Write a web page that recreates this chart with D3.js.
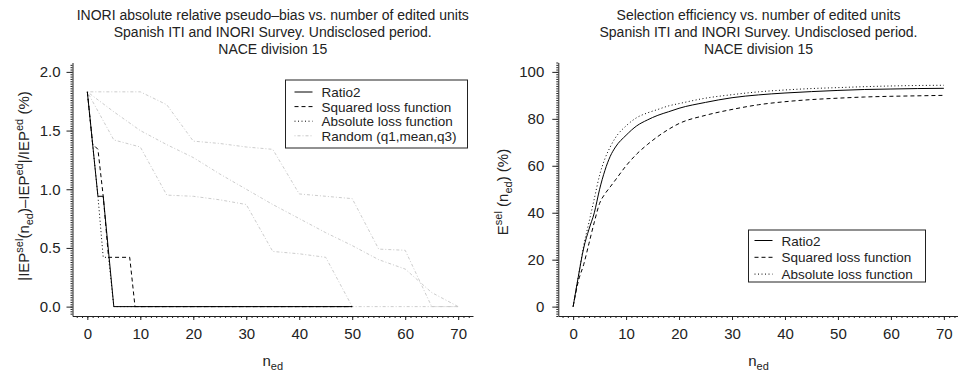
<!DOCTYPE html>
<html>
<head>
<meta charset="utf-8">
<script src="https://cdn.jsdelivr.net/npm/d3@7"></script>
<style>
  body { margin: 0; background: #fff; }
  svg { font-family: "Liberation Sans", Arial, sans-serif; }
</style>
</head>
<body>
<svg id="chart" width="958" height="372"></svg>
<script>
// ---- Left panel data (pseudo-bias, %)
const ratio2N = [0, 2, 3, 5, 50];
const ratio2V = [1.83, 0.94, 0.94, 0, 0];
const squaredN = [0, 1, 2, 3, 4, 8, 9, 50];
const squaredV = [1.83, 1.385, 1.34, 0.94, 0.42, 0.42, 0, 0];
const absoluteN = [0, 2, 3, 4, 5, 50];
const absoluteV = [1.83, 0.94, 0.42, 0.42, 0, 0];
const randomN = [0, 5, 10, 15, 20, 25, 30, 35, 40, 45, 50, 55, 60, 65, 70];
const randomQ1 = [1.83, 1.42, 1.36, 0.95, 0.94, 0.91, 0.87, 0.47, 0.45, 0.42, 0, 0, 0, 0, 0];
const randomMean = [1.83, 1.66, 1.50, 1.38, 1.27, 1.13, 1.00, 0.87, 0.75, 0.63, 0.52, 0.40, 0.32, 0.12, 0];
const randomQ3 = [1.83, 1.83, 1.83, 1.72, 1.41, 1.39, 1.36, 1.34, 0.96, 0.94, 0.92, 0.49, 0.48, 0, 0];

// ---- Right panel data (selection efficiency, %)
const effN = [0, 1, 2, 3, 4, 5, 6, 7, 8, 10, 12, 14, 16, 18, 20, 25, 30, 35, 40, 45, 50, 55, 60, 65, 70];
const effRatio2 = [0, 13, 25, 33, 40, 50, 58, 64, 68, 73, 77, 79.5, 81.5, 83, 84.5, 87, 89, 90.2, 91, 91.6, 92.1, 92.5, 92.7, 92.9, 93];
const effSquared = [0, 11, 18, 27, 36, 44, 48, 51, 54, 60, 65, 69, 72.5, 75.5, 78, 81.5, 84, 86, 87.3, 88.2, 88.8, 89.3, 89.6, 89.8, 90];
const effAbsolute = [0, 13, 26, 36, 46, 56, 63, 68, 72, 77, 80.5, 82.5, 84, 85.5, 86.5, 88.8, 90.3, 91.5, 92.3, 92.9, 93.3, 93.7, 94, 94.2, 94.3];

const xTicks = [0, 10, 20, 30, 40, 50, 60, 70];
const leftYTicks = [0, 0.5, 1, 1.5, 2];
const rightYTicks = [0, 20, 40, 60, 80, 100];

const leftTitle = ["INORI absolute relative pseudo\u2013bias vs. number of edited units",
                   "Spanish ITI and INORI Survey. Undisclosed period.", "NACE division 15"];
const rightTitle = ["Selection efficiency vs. number of edited units",
                    "Spanish ITI and INORI Survey. Undisclosed period.", "NACE division 15"];

const styles = {
  ratio2:   { stroke: "#000", dash: null, width: 1 },
  squared:  { stroke: "#000", dash: "4,3", width: 1 },
  absolute: { stroke: "#000", dash: "1,2.5", width: 1 },
  random:   { stroke: "#c6c6c6", dash: "1,2,3,2", width: 0.9 }
};

const svg = d3.select("#chart");
const plotTop = 62.5, plotBottom = 316;

function zip(xs, ys) { return xs.map((x, i) => ({ n: x, v: ys[i] })); }

function drawPanel(opts) {
  const x = d3.scaleLinear().domain([-2.8, 72.8]).range([opts.left, opts.right]);
  const y = d3.scaleLinear().domain(opts.yDomain).range([plotBottom, plotTop]);

  // titles
  const cx = (opts.left + opts.right) / 2;
  opts.title.forEach((t, i) => {
    svg.append("text").attr("x", cx).attr("y", 20 + i * 17)
      .attr("text-anchor", "middle").attr("font-size", 14).attr("fill", "#222").text(t);
  });

  // x axis: minor + major
  svg.append("g").attr("transform", `translate(0,${plotBottom})`)
    .call(d3.axisBottom(x).tickValues(d3.range(-2, 73, 1)).tickSize(2).tickSizeOuter(0).tickFormat(""))
    .call(g => g.selectAll("line,path").attr("stroke", "#222"));
  svg.append("g").attr("transform", `translate(0,${plotBottom})`)
    .call(d3.axisBottom(x).tickValues(xTicks).tickSize(4).tickSizeOuter(0).tickPadding(8))
    .call(g => g.select(".domain").remove())
    .call(g => g.selectAll("line").attr("stroke", "#222"))
    .call(g => g.selectAll("text").attr("font-size", 15).attr("font-family", "Liberation Sans, Arial, sans-serif").attr("fill", "#222"));

  // y axis: minor + major
  svg.append("g").attr("transform", `translate(${opts.left},0)`)
    .call(d3.axisLeft(y).tickValues(opts.yMinor).tickSize(2).tickSizeOuter(0).tickFormat(""))
    .call(g => g.selectAll("line,path").attr("stroke", "#222"));
  svg.append("g").attr("transform", `translate(${opts.left},0)`)
    .call(d3.axisLeft(y).tickValues(opts.yTicks).tickSize(6).tickSizeOuter(0).tickPadding(opts.yPad).tickFormat(opts.yFormat))
    .call(g => g.select(".domain").remove())
    .call(g => g.selectAll("line").attr("stroke", "#222"))
    .call(g => g.selectAll("text").attr("font-size", 15).attr("font-family", "Liberation Sans, Arial, sans-serif").attr("fill", "#222"));

  // x label n_ed
  const xl = svg.append("text").attr("x", cx).attr("y", 366).attr("text-anchor", "middle")
    .attr("font-size", 15).attr("fill", "#222");
  xl.append("tspan").text("n");
  xl.append("tspan").attr("font-size", 11).attr("dy", 4).text("ed");

  // lines
  const line = d3.line().x(d => x(d.n)).y(d => y(d.v)).curve(opts.curve || d3.curveLinear);
  opts.series.forEach(s => {
    svg.append("path").datum(s.data)
      .attr("fill", "none").attr("stroke", s.style.stroke).attr("stroke-width", s.style.width)
      .attr("stroke-dasharray", s.style.dash).attr("d", line);
  });

  // legend
  const lg = svg.append("g").attr("transform", `translate(${opts.legend.x},${opts.legend.y})`);
  lg.append("rect").attr("width", opts.legend.w).attr("height", opts.legend.h)
    .attr("fill", "#fff").attr("stroke", "#222").attr("stroke-width", 1);
  opts.legend.items.forEach((it, i) => {
    const yy = opts.legend.first + i * opts.legend.step;
    lg.append("line").attr("x1", opts.legend.pad).attr("x2", opts.legend.pad + 18)
      .attr("y1", yy).attr("y2", yy)
      .attr("stroke", it.style.stroke).attr("stroke-dasharray", it.style.dash);
    lg.append("text").attr("x", opts.legend.pad + 27).attr("y", yy + 5)
      .attr("font-size", 13.5).attr("fill", "#222").text(it.label);
  });
  return { x, y };
}

// left panel
const leftPanel = drawPanel({
  left: 72.5, right: 473, yDomain: [-0.08, 2.08],
  yTicks: leftYTicks, yMinor: d3.range(-0.06, 2.08, 0.02).map(v => +v.toFixed(2)),
  yFormat: d3.format(".1f"), yPad: 6,
  title: leftTitle,
  series: [
    { data: zip(randomN, randomQ1), style: styles.random },
    { data: zip(randomN, randomMean), style: styles.random },
    { data: zip(randomN, randomQ3), style: styles.random },
    { data: zip(absoluteN, absoluteV), style: styles.absolute },
    { data: zip(squaredN, squaredV), style: styles.squared },
    { data: zip(ratio2N, ratio2V), style: styles.ratio2 }
  ],
  legend: { x: 285.5, y: 80, w: 182, h: 68, pad: 9, first: 12, step: 14.6,
    items: [
      { label: "Ratio2", style: styles.ratio2 },
      { label: "Squared loss function", style: styles.squared },
      { label: "Absolute loss function", style: styles.absolute },
      { label: "Random (q1,mean,q3)", style: styles.random }
    ] }
});

// right panel
const rightPanel = drawPanel({
  left: 558.3, right: 958.7, yDomain: [-4, 104],
  yTicks: rightYTicks, yMinor: d3.range(-4, 105, 1),
  yFormat: d3.format("d"), yPad: 8,
  title: rightTitle,
  curve: d3.curveMonotoneX,
  series: [
    { data: zip(effN, effAbsolute), style: styles.absolute },
    { data: zip(effN, effSquared), style: styles.squared },
    { data: zip(effN, effRatio2), style: styles.ratio2 }
  ],
  legend: { x: 748.5, y: 230, w: 177, h: 52, pad: 6, first: 10.5, step: 16.8,
    items: [
      { label: "Ratio2", style: styles.ratio2 },
      { label: "Squared loss function", style: styles.squared },
      { label: "Absolute loss function", style: styles.absolute }
    ] }
});

// y label left: |IEP^sel(n_ed)-IEP^ed|/IEP^ed (%)
const yl = svg.append("text")
  .attr("transform", `translate(28.5,186) rotate(-90)`)
  .attr("text-anchor", "middle").attr("font-size", 15).attr("fill", "#222");
const parts = [
  ["|IEP", 0], ["sel", -1], ["(n", 0], ["ed", 1], [")\u2013IEP", 0], ["ed", -1],
  ["|/IEP", 0], ["ed", -1], [" (%)", 0]
];
let cur = 0;
parts.forEach(([t, lvl]) => {
  const off = lvl === -1 ? -6 : lvl === 1 ? 4 : 0;
  yl.append("tspan").attr("dy", off - cur).attr("font-size", lvl ? 11 : 15).text(t);
  cur = off;
});

// y label right: E^sel (n_ed) (%)
const yr = svg.append("text")
  .attr("transform", `translate(507.5,192) rotate(-90)`)
  .attr("text-anchor", "middle").attr("font-size", 15).attr("fill", "#222");
const rparts = [["E", 0], ["sel", -1], [" (n", 0], ["ed", 1], [") (%)", 0]];
cur = 0;
rparts.forEach(([t, lvl]) => {
  const off = lvl === -1 ? -6 : lvl === 1 ? 4 : 0;
  yr.append("tspan").attr("dy", off - cur).attr("font-size", lvl ? 11 : 15).text(t);
  cur = off;
});
</script>
</body>
</html>
